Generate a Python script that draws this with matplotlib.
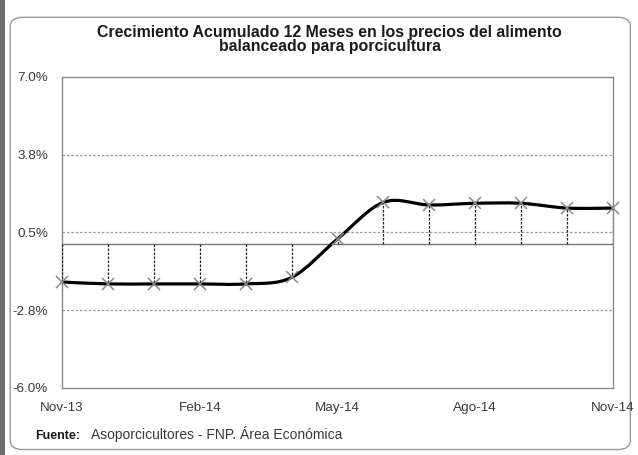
import matplotlib.pyplot as plt
import matplotlib.patches as patches
from matplotlib.path import Path
import numpy as np

# Monthly accumulated 12-month growth (%), Nov-13 .. Nov-14
months = ['Nov-13', 'Dic-13', 'Ene-14', 'Feb-14', 'Mar-14', 'Abr-14', 'May-14',
          'Jun-14', 'Jul-14', 'Ago-14', 'Sep-14', 'Oct-14', 'Nov-14']
growth = [-1.57, -1.65, -1.65, -1.65, -1.65, -1.38, 0.23,
          1.76, 1.65, 1.72, 1.72, 1.52, 1.52]

y_ticks = [-6.0, -2.75, 0.5, 3.75, 7.0]
y_labels = ['-6.0%', '-2.8%', '0.5%', '3.8%', '7.0%']
x_tick_idx = [0, 3, 6, 9, 12]


def smooth_path(xs, ys, t=1/6):
    """Bezier path through the points, like a spreadsheet 'smoothed line'."""
    verts = [(xs[0], ys[0])]
    codes = [Path.MOVETO]
    n = len(xs)
    for i in range(n - 1):
        x0, y0 = xs[max(i - 1, 0)], ys[max(i - 1, 0)]
        x1, y1 = xs[i], ys[i]
        x2, y2 = xs[i + 1], ys[i + 1]
        x3, y3 = xs[min(i + 2, n - 1)], ys[min(i + 2, n - 1)]
        c1 = (x1 + (x2 - x0) * t, y1 + (y2 - y0) * t)
        c2 = (x2 - (x3 - x1) * t, y2 - (y3 - y1) * t)
        verts += [c1, c2, (x2, y2)]
        codes += [Path.CURVE4] * 3
    return Path(verts, codes)


plt.rcParams['font.family'] = ['Liberation Sans', 'DejaVu Sans']
fig = plt.figure(figsize=(6.38, 4.55), dpi=100)
fig.patch.set_facecolor('white')

# background: outer rounded frame and the dark strip on the left
bg = fig.add_axes([0, 0, 1, 1], zorder=-1)
bg.set_xlim(0, 1)
bg.set_ylim(0, 1)
bg.axis('off')
bg.add_patch(patches.FancyBboxPatch((0.016, 0.012), 0.972, 0.95,
                                    boxstyle='round,pad=0,rounding_size=0.02',
                                    facecolor='white', edgecolor='#9a9a9a', lw=1.0))
bg.add_patch(patches.Rectangle((0, 0), 0.008, 1, facecolor='#6e6e6e', edgecolor='none'))

ax = fig.add_axes([0.0972, 0.1473, 0.8636, 0.6835])
ax.set_facecolor('white')
x = np.arange(len(months))
ax.set_xlim(0, len(months) - 1)
ax.set_ylim(-6.0, 7.0)

for y in y_ticks[1:-1]:
    ax.axhline(y, color='#9a9a9a', lw=0.9, ls=(0, (2, 1.5)), zorder=1)
ax.axhline(0, color='#777777', lw=1.0, zorder=2)

# drop lines from each point to zero
ax.vlines(x, 0, growth, colors='#222222', lw=0.9, linestyles=(0, (2, 1.2)), zorder=3)

ax.add_patch(patches.PathPatch(smooth_path(x, growth), facecolor='none',
                               edgecolor='black', lw=2.3, zorder=4))
ax.plot(x, growth, ls='none', marker='x', ms=8, mew=1.1, color='#8a8a8a', zorder=5,
        clip_on=False)

ax.set_yticks(y_ticks)
ax.set_yticklabels(y_labels)
ax.set_xticks(x_tick_idx)
ax.set_xticklabels([months[i] for i in x_tick_idx])
ax.tick_params(axis='both', length=0, labelsize=9.7, labelcolor='#3a3a3a')
ax.tick_params(axis='x', pad=10)
ax.tick_params(axis='y', pad=10)
for s in ax.spines.values():
    s.set_color('#8a8a8a')
    s.set_linewidth(1.0)

fig.text(0.517, 0.913, 'Crecimiento Acumulado 12 Meses en los precios del alimento\n'
         'balanceado para porcicultura', ha='center', va='center',
         fontsize=11.4, fontweight='bold', color='#1a1a1a', linespacing=0.98)

fig.text(0.055, 0.036, 'Fuente:', fontsize=9, fontweight='bold', color='#1a1a1a')
fig.text(0.142, 0.036, 'Asoporcicultores - FNP. Área Económica', fontsize=10, color='#3a3a3a')

plt.savefig('out.png', dpi=100, facecolor='white')
